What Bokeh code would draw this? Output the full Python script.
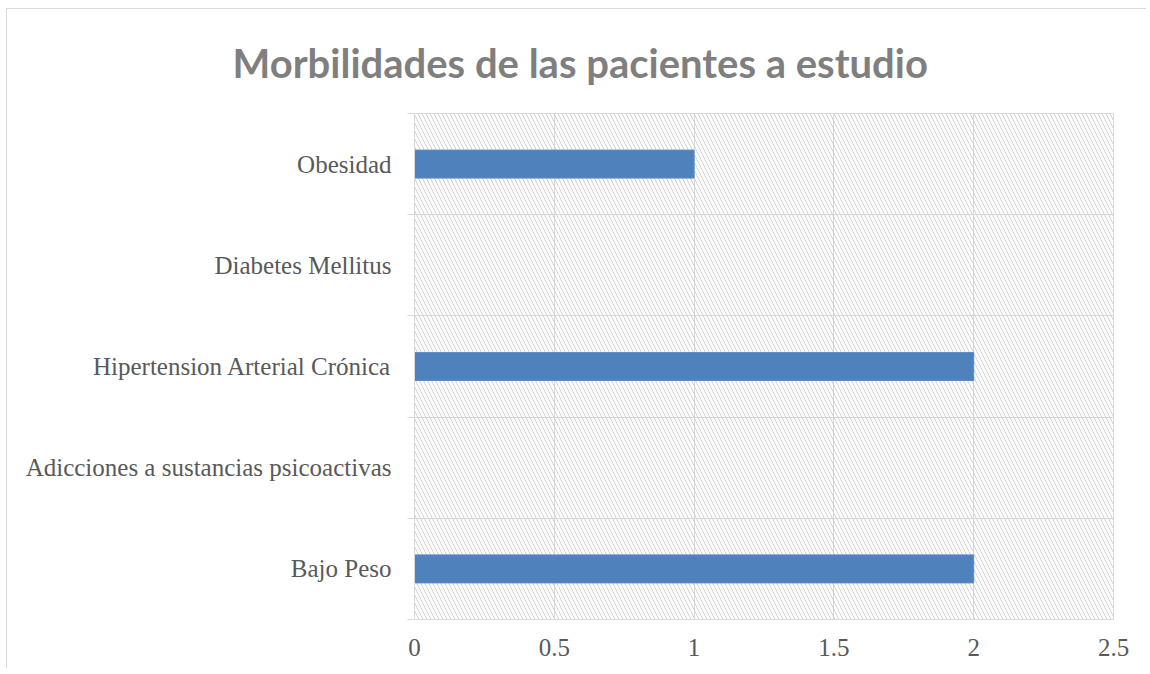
from bokeh.plotting import figure
from bokeh.models import FixedTicker, BoxAnnotation, Range1d
from bokeh.embed import file_html
from bokeh.resources import INLINE

categories = ["Bajo Peso", "Adicciones a sustancias psicoactivas",
              "Hipertension Arterial Crónica", "Diabetes Mellitus", "Obesidad"]
values = [2, 0, 2, 0, 1]
x_ticks = [0, 0.5, 1, 1.5, 2, 2.5]
x_tick_labels = ["0", "0.5", "1", "1.5", "2", "2.5"]
title_text = "Morbilidades de las pacientes a estudio"

ypos = [i + 0.5 for i in range(len(categories))]

p = figure(width=1140, height=660, output_backend="svg", toolbar_location=None,
           x_range=Range1d(0, 2.5), y_range=Range1d(0, len(categories)),
           min_border_left=407, min_border_right=34, min_border_top=104,
           min_border_bottom=50)
p.styles = {"border-left": "1px solid #d9d9d9", "border-top": "1px solid #d9d9d9",
            "margin-left": "6px", "margin-top": "8px"}

p.title.text = title_text
p.title.text_font = "Lato"
p.title.text_font_style = "bold"
p.title.text_font_size = "40px"
p.title.text_color = "#7f7f7f"
p.title.align = "left"
p.title.offset = -182
p.title.standoff = 54

hatch = BoxAnnotation(level="underlay", fill_alpha=0, line_alpha=0,
                      hatch_pattern="\\", hatch_color="#d0d0d0",
                      hatch_scale=8, hatch_weight=1)
p.add_layout(hatch)

p.hbar(y=ypos, right=values, left=0, height=0.277, color="#4f81bd",
       line_color="#5b8cc6")

p.outline_line_color = "#d9d9d9"
p.background_fill_color = "white"
p.border_fill_color = "white"

# x axis
p.xaxis.ticker = FixedTicker(ticks=x_ticks)
p.xaxis.major_label_overrides = {t: l for t, l in zip(x_ticks, x_tick_labels)}
p.xaxis.axis_line_color = "#d9d9d9"
p.xaxis.major_tick_line_color = None
p.xaxis.minor_tick_line_color = None
p.xaxis.major_tick_out = 0
p.xaxis.major_label_standoff = 19
p.xaxis.major_label_text_font = "Liberation Serif"
p.xaxis.major_label_text_font_size = "25px"
p.xaxis.major_label_text_color = "#595959"

# y axis
p.yaxis.ticker = FixedTicker(ticks=ypos, minor_ticks=list(range(len(categories) + 1)))
p.yaxis.major_label_overrides = {y: c for y, c in zip(ypos, categories)}
p.yaxis.axis_line_color = "#d9d9d9"
p.yaxis.major_tick_line_color = None
p.yaxis.major_tick_out = 0
p.yaxis.major_tick_in = 0
p.yaxis.minor_tick_line_color = "#d9d9d9"
p.yaxis.minor_tick_out = 7
p.yaxis.minor_tick_in = 0
p.yaxis.major_label_standoff = 16
p.yaxis.major_label_text_font = "Liberation Serif"
p.yaxis.major_label_text_font_size = "25px"
p.yaxis.major_label_text_color = "#595959"

p.xgrid.grid_line_color = "#d9d9d9"
p.ygrid.ticker = FixedTicker(ticks=list(range(len(categories) + 1)))
p.ygrid.grid_line_color = "#d9d9d9"

open("out.html", "w").write(file_html(p, INLINE))
